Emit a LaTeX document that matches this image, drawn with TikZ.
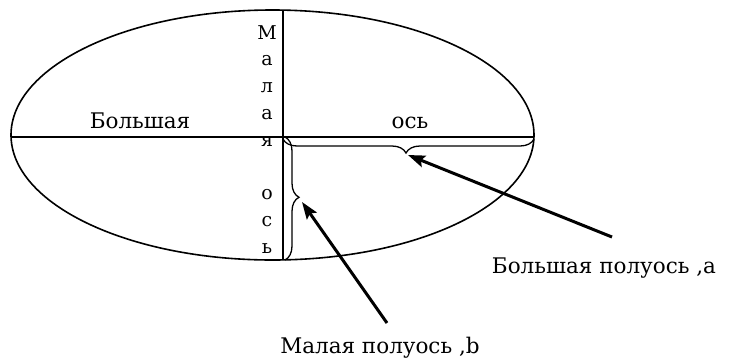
\documentclass[tikz,border=0pt]{standalone}
\usepackage{fontspec}
\setmainfont{DejaVu Serif}
\usetikzlibrary{positioning, arrows.meta, decorations.pathreplacing}

\begin{document}
\begin{tikzpicture}[
			x=1pt, y=-1pt,
			axisline/.style={line width=1.6pt},
			halfbrace/.style={line width=1.3pt, decorate, decoration={brace, amplitude=14pt, raise=2pt}},
			pointer/.style={-{Stealth[length=17pt, width=12pt, inset=3pt]}, line width=3pt},
			lbl/.style={font=\fontsize{21.5}{24}\selectfont, inner sep=0pt, anchor=base}
		]
		\useasboundingbox (0,0) rectangle (733,360);

		% Ellipse
		\draw[axisline] (272.5,135) ellipse [x radius=261.5pt, y radius=125pt];

		% Axes
		\coordinate (O) at (283,137);
		\coordinate (left) at (11,137);
		\coordinate (right) at (534,137);
		\coordinate (top) at (283,10);
		\coordinate (bottom) at (283,260);
		\draw[axisline] (left) -- (right);
		\draw[axisline] (top) -- (bottom);

		% Axis labels
		\node[lbl] (major) at (140,128) {Большая};
		\node[lbl] (majorend) at (410,128) {ось};
		\node[font=\fontsize{19}{26.8}\selectfont, inner sep=0pt, align=center, anchor=north] (minor) at (267,25)
			{М\\а\\л\\а\\я\\[26.8pt]о\\с\\ь};

		% Half-axis braces
		\draw[halfbrace, decoration={aspect=0.51}] (right) -- (O);
		\draw[halfbrace, decoration={aspect=0.49}] (O) -- (bottom);

		% Captions
		\node[lbl] (capa) at (604,273) {Большая полуось ,а};
		\node[lbl] (capb) at (380,353) {Малая полуось ,b};

		% Pointers
		\coordinate (taila) at (612,237);
		\coordinate (tipa) at (408,155);
		\coordinate (tailb) at (387,323);
		\coordinate (tipb) at (302,202);
		\draw[pointer] (taila) -- (tipa);
		\draw[pointer] (tailb) -- (tipb);

		\end{tikzpicture}
\end{document}
